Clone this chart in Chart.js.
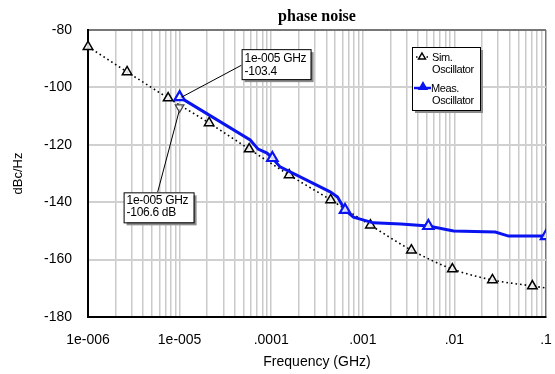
<!DOCTYPE html>
<html>
<head>
<meta charset="utf-8">
<script src="https://cdn.jsdelivr.net/npm/chart.js@4/dist/chart.umd.min.js"></script>
<style>
html, body { margin: 0; padding: 0; background: #fff; }
canvas { display: block; }
</style>
</head>
<body>
<canvas id="chart" width="555" height="374"></canvas>
<script>
// Sim. Oscillator (dotted, triangle markers)
const simFreq = [1e-6, 2.67e-6, 7.5e-6, 2.1e-5, 5.75e-5, 1.57e-4, 4.46e-4, 1.21e-3, 3.39e-3, 9.5e-3, 0.026, 0.071, 0.1];
const simDb = [-85.8, -94.6, -103.7, -112.4, -121.5, -130.5, -139.2, -148.0, -156.7, -163.3, -167.1, -169.2, -169.9];

// Meas. Oscillator (blue)
const measFreq = [1e-5, 5.9e-5, 7.2e-5, 9.0e-5, 1.03e-4, 1.25e-4, 4.4e-4, 5.3e-4, 6.4e-4, 7.9e-4, 9.4e-4, 1.3e-3, 2.6e-3, 5.2e-3, 9.8e-3, 0.028, 0.039, 0.1];
const measDb = [-103.4, -118.3, -121.5, -122.9, -124.6, -127.7, -136.4, -138.2, -142.7, -145.2, -145.9, -147.2, -147.6, -148.3, -150.0, -150.4, -151.8, -151.8];
const measMarkers = [0, 4, 8, 13, 17];

const xDecades = [1e-6, 1e-5, 1e-4, 1e-3, 1e-2, 1e-1];
const xTickLabels = ['1e-006', '1e-005', '.0001', '.001', '.01', '.1'];
const yMin = -180, yMax = -80, yStep = 20;

// marker readouts
const markerFreq = 1e-5;
const markerMeasDb = -103.4;
const markerSimDb = -106.6;
const markerMeasText = ['1e-005 GHz', '-103.4'];
const markerSimText = ['1e-005 GHz', '-106.6 dB'];

const legendNames = [['Sim.', 'Oscillator'], ['Meas.', 'Oscillator']];
const titleText = 'phase noise';

const BLUE = '#0a14f0';
const SANS = '"Liberation Sans", Arial, sans-serif';

function isDecade(v) {
    const l = Math.log10(v);
    return Math.abs(l - Math.round(l)) < 1e-6;
}

function xGridTicks() {
    const ticks = [];
    for (let k = 0; k < xDecades.length - 1; k++) {
        for (let m = 1; m < 10; m++) ticks.push({ value: m * xDecades[k] });
    }
    ticks.push({ value: xDecades[xDecades.length - 1] });
    return ticks;
}

function shadowBox(ctx, x, y, w, h) {
    ctx.fillStyle = '#8c8c8c';
    ctx.fillRect(x + 3, y + 3, w, h);
    ctx.fillStyle = '#fff';
    ctx.fillRect(x, y, w, h);
    ctx.strokeStyle = '#000';
    ctx.lineWidth = 1;
    ctx.strokeRect(x + 0.5, y + 0.5, w, h);
}

function triangle(ctx, x, y, r, down) {
    const s = down ? -1 : 1;
    ctx.beginPath();
    ctx.moveTo(x, y - s * r);
    ctx.lineTo(x + r * 0.866, y + s * r * 0.5);
    ctx.lineTo(x - r * 0.866, y + s * r * 0.5);
    ctx.closePath();
}

const extras = {
    id: 'extras',
    afterDatasetsDraw(chart) {
        const { ctx, chartArea: a, scales: { x, y } } = chart;
        ctx.save();

        // title
        ctx.fillStyle = '#000';
        ctx.font = 'bold 16px "Liberation Serif", "Times New Roman", serif';
        ctx.textAlign = 'center';
        ctx.textBaseline = 'alphabetic';
        ctx.fillText(titleText, (a.left + a.right) / 2, 21);

        ctx.font = '12px ' + SANS;
        ctx.letterSpacing = '-0.3px';
        ctx.textAlign = 'left';

        // marker on measured trace
        const px = x.getPixelForValue(markerFreq);
        const p1y = y.getPixelForValue(markerMeasDb);
        ctx.strokeStyle = '#000';
        ctx.lineWidth = 1;
        ctx.beginPath();
        ctx.moveTo(px + 62, p1y - 32);
        ctx.lineTo(px + 2, p1y);
        ctx.stroke();
        shadowBox(ctx, px + 62, p1y - 48, 69, 30);
        ctx.fillStyle = '#000';
        ctx.fillText(markerMeasText[0], px + 65, p1y - 35);
        ctx.fillText(markerMeasText[1], px + 65, p1y - 22);

        // marker on simulated trace
        const p2y = y.getPixelForValue(markerSimDb);
        ctx.strokeStyle = '#000';
        ctx.beginPath();
        ctx.moveTo(px - 22, p2y + 86);
        ctx.lineTo(px, p2y + 3);
        ctx.stroke();
        triangle(ctx, px, p2y + 1, 5, true);
        ctx.fillStyle = 'rgba(255,255,255,0.7)';
        ctx.fill();
        ctx.strokeStyle = '#444';
        ctx.lineWidth = 1.2;
        ctx.stroke();
        shadowBox(ctx, px - 56, p2y + 86, 70, 30);
        ctx.fillStyle = '#000';
        ctx.fillText(markerSimText[0], px - 53, p2y + 98);
        ctx.fillText(markerSimText[1], px - 53, p2y + 110);

        // legend
        const lx = a.left + 324, ly = a.top + 17;
        shadowBox(ctx, lx, ly, 68, 63);
        ctx.font = '11px ' + SANS;
        ctx.letterSpacing = '-0.4px';
        ctx.fillStyle = '#000';
        ctx.fillText(legendNames[0][0], lx + 20, ly + 14);
        ctx.fillText(legendNames[0][1], lx + 20, ly + 26);
        ctx.fillText(legendNames[1][0], lx + 19, ly + 45);
        ctx.fillText(legendNames[1][1], lx + 20, ly + 57);

        ctx.strokeStyle = '#000';
        ctx.lineWidth = 1.5;
        ctx.setLineDash([1.5, 2]);
        ctx.beginPath();
        ctx.moveTo(lx + 4, ly + 10);
        ctx.lineTo(lx + 16, ly + 10);
        ctx.stroke();
        ctx.setLineDash([]);
        triangle(ctx, lx + 10, ly + 10, 4, false);
        ctx.fillStyle = '#fff';
        ctx.fill();
        ctx.stroke();

        ctx.strokeStyle = BLUE;
        ctx.lineWidth = 2.5;
        ctx.beginPath();
        ctx.moveTo(lx + 2, ly + 41);
        ctx.lineTo(lx + 19, ly + 41);
        ctx.stroke();
        triangle(ctx, lx + 11, ly + 40, 4.5, false);
        ctx.fillStyle = BLUE;
        ctx.fill();
        ctx.lineWidth = 1.5;
        ctx.stroke();

        ctx.restore();
    }
};

new Chart(document.getElementById('chart'), {
    type: 'line',
    data: {
        datasets: [
            {
                label: 'Meas. Oscillator',
                data: measFreq.map((f, i) => ({ x: f, y: measDb[i] })),
                borderColor: BLUE,
                borderWidth: 3,
                tension: 0,
                pointStyle: 'triangle',
                pointRadius: ctx => measMarkers.includes(ctx.dataIndex) ? 6 : 0,
                pointBorderColor: BLUE,
                pointBackgroundColor: 'rgba(255,255,255,0.85)',
                pointBorderWidth: 2.2
            },
            {
                label: 'Sim. Oscillator',
                data: simFreq.map((f, i) => ({ x: f, y: simDb[i] })),
                borderColor: '#000',
                borderWidth: 1.6,
                borderDash: [1.6, 3],
                cubicInterpolationMode: 'monotone',
                pointStyle: 'triangle',
                pointRadius: ctx => ctx.dataIndex < simFreq.length - 1 ? 5.5 : 0,
                pointBorderColor: '#000',
                pointBackgroundColor: 'rgba(240,240,240,0.9)',
                pointBorderWidth: 1.5,
                clip: false
            }
        ]
    },
    options: {
        responsive: false,
        animation: false,
        layout: { padding: { top: 30, right: 9, left: 0, bottom: 0 } },
        plugins: {
            legend: { display: false },
            tooltip: { enabled: false },
            title: { display: false }
        },
        scales: {
            x: {
                type: 'logarithmic',
                min: xDecades[0],
                max: xDecades[xDecades.length - 1],
                afterBuildTicks: scale => { scale.ticks = xGridTicks(); },
                afterFit: scale => {
                    scale.height = 57;
                    scale.paddingLeft = 0;
                    scale.paddingRight = 0;
                },
                ticks: {
                    autoSkip: false,
                    maxRotation: 0,
                    padding: 15,
                    color: '#000',
                    font: { family: SANS, size: 14 },
                    callback: v => {
                        if (!isDecade(v)) return '';
                        const idx = xDecades.findIndex(d => Math.abs(Math.log10(d) - Math.log10(v)) < 1e-6);
                        return idx >= 0 ? xTickLabels[idx] : '';
                    }
                },
                grid: {
                    drawTicks: false,
                    color: ctx => (ctx.tick && ctx.tick.value >= xDecades[xDecades.length - 1]) ? '#777' : '#cacaca',
                    lineWidth: 1.5
                },
                border: { color: '#000', width: 2 },
                title: {
                    display: true,
                    text: 'Frequency (GHz)',
                    color: '#000',
                    font: { family: SANS, size: 14 },
                    padding: { top: 4, bottom: 3 }
                }
            },
            y: {
                min: yMin,
                max: yMax,
                afterFit: scale => {
                    scale.width = 88;
                    scale.paddingTop = 0;
                    scale.paddingBottom = 0;
                },
                ticks: {
                    stepSize: yStep,
                    padding: 16,
                    color: '#000',
                    font: { family: SANS, size: 14 }
                },
                grid: {
                    drawTicks: false,
                    color: ctx => (ctx.tick && ctx.tick.value === yMax) ? '#777' : '#d0d0d0',
                    lineWidth: 2
                },
                border: { color: '#000', width: 2 },
                title: {
                    display: true,
                    text: 'dBc/Hz',
                    color: '#000',
                    font: { family: SANS, size: 13 },
                    padding: { top: 11, bottom: 4 }
                }
            }
        }
    },
    plugins: [extras]
});
</script>
</body>
</html>
